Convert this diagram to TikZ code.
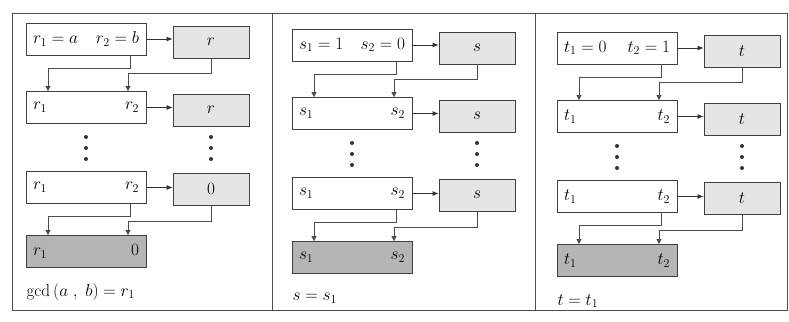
\documentclass[tikz,border=0pt]{standalone}
\usetikzlibrary{arrows.meta,calc}
\tikzset{
  every node/.style={font=\fontsize{18}{21}\selectfont},
  box/.style={draw=black!75, line width=0.8pt, minimum height=32pt, inner sep=0pt},
  lbox/.style={box, minimum width=120pt, text width=106pt, fill=white},
  rbox/.style={box, minimum width=76pt, fill=gray!20},
  dbox/.style={lbox, fill=gray!58},
  harr/.style={-{Latex[length=6pt,width=5pt]}, line width=0.8pt, draw=black!80},
  varr/.style={-{Triangle[length=5pt,width=5pt]}, line width=0.7pt, draw=black!70},
  vdot/.style={circle, fill=black!80, inner sep=0pt, minimum size=4pt},
  frame/.style={draw=black!70, line width=1pt}
}
\newcommand\mypanel[9]{%
\begin{scope}[shift={(#2)}]
  \node[lbox] (#1a) at (86,39) {#3};
  \node[rbox] (#1b) at (211,42) {#6};
  \node[lbox] (#1c) at (86,107.5) {#4\hfill#5};
  \node[rbox] (#1d) at (211,110) {#6};
  \node[lbox] (#1e) at (86,187.5) {#4\hfill#5};
  \node[rbox] (#1f) at (211,189) {#7};
  \node[dbox] (#1g) at (86,251.5) {#4\hfill#8};
  \node[anchor=west] (#1h) at (23,292) {#9};
  \foreach \yy [count=\i] in {137,148,159} {
    \node[vdot] (#1l\i) at (86,\yy) {};
    \node[vdot] (#1r\i) at (211,\yy) {};
  }
  \draw[harr] (#1a.east) -- (#1b.west |- #1a.east);
  \draw[harr] (#1c.east) -- (#1d.west |- #1c.east);
  \draw[harr] (#1e.east) -- (#1f.west |- #1e.east);
  \draw[varr] ([xshift=44pt]#1a.south) -- ++(0,13) -| ([xshift=-38pt]#1c.north);
  \draw[varr] (#1b.south) -- ++(0,14.5) -| ([xshift=42pt]#1c.north);
  \draw[varr] ([xshift=44pt]#1e.south) -- ++(0,12.5) -| ([xshift=-38pt]#1g.north);
  \draw[varr] (#1f.south) -- ++(0,15.5) -| ([xshift=42pt]#1g.north);
\end{scope}}
\begin{document}
\begin{tikzpicture}[x=1pt,y=-1pt]
  \useasboundingbox[fill=white] (0,0) rectangle (789,321);
  \draw[frame] (12,14) rectangle (787,310);
  \draw[frame] (272,14) -- (272,310);
  \draw[frame] (535,14) -- (535,310);
  \mypanel{p}{0,0}{$r_1=a$\hfill$r_2=b$}{$r_1$}{$r_2$}{$r$}{$0$}{$0$}{$\gcd\,(a\;,\;b)=r_1$}
  \mypanel{q}{266,6}{$s_1=1$\hfill$s_2=0$}{$s_1$}{$s_2$}{$s$}{$s$}{$s_2$}{$s=s_1$}
  \mypanel{u}{531,9}{$t_1=0$\hfill$t_2=1$}{$t_1$}{$t_2$}{$t$}{$t$}{$t_2$}{$t=t_1$}
\end{tikzpicture}
\end{document}
